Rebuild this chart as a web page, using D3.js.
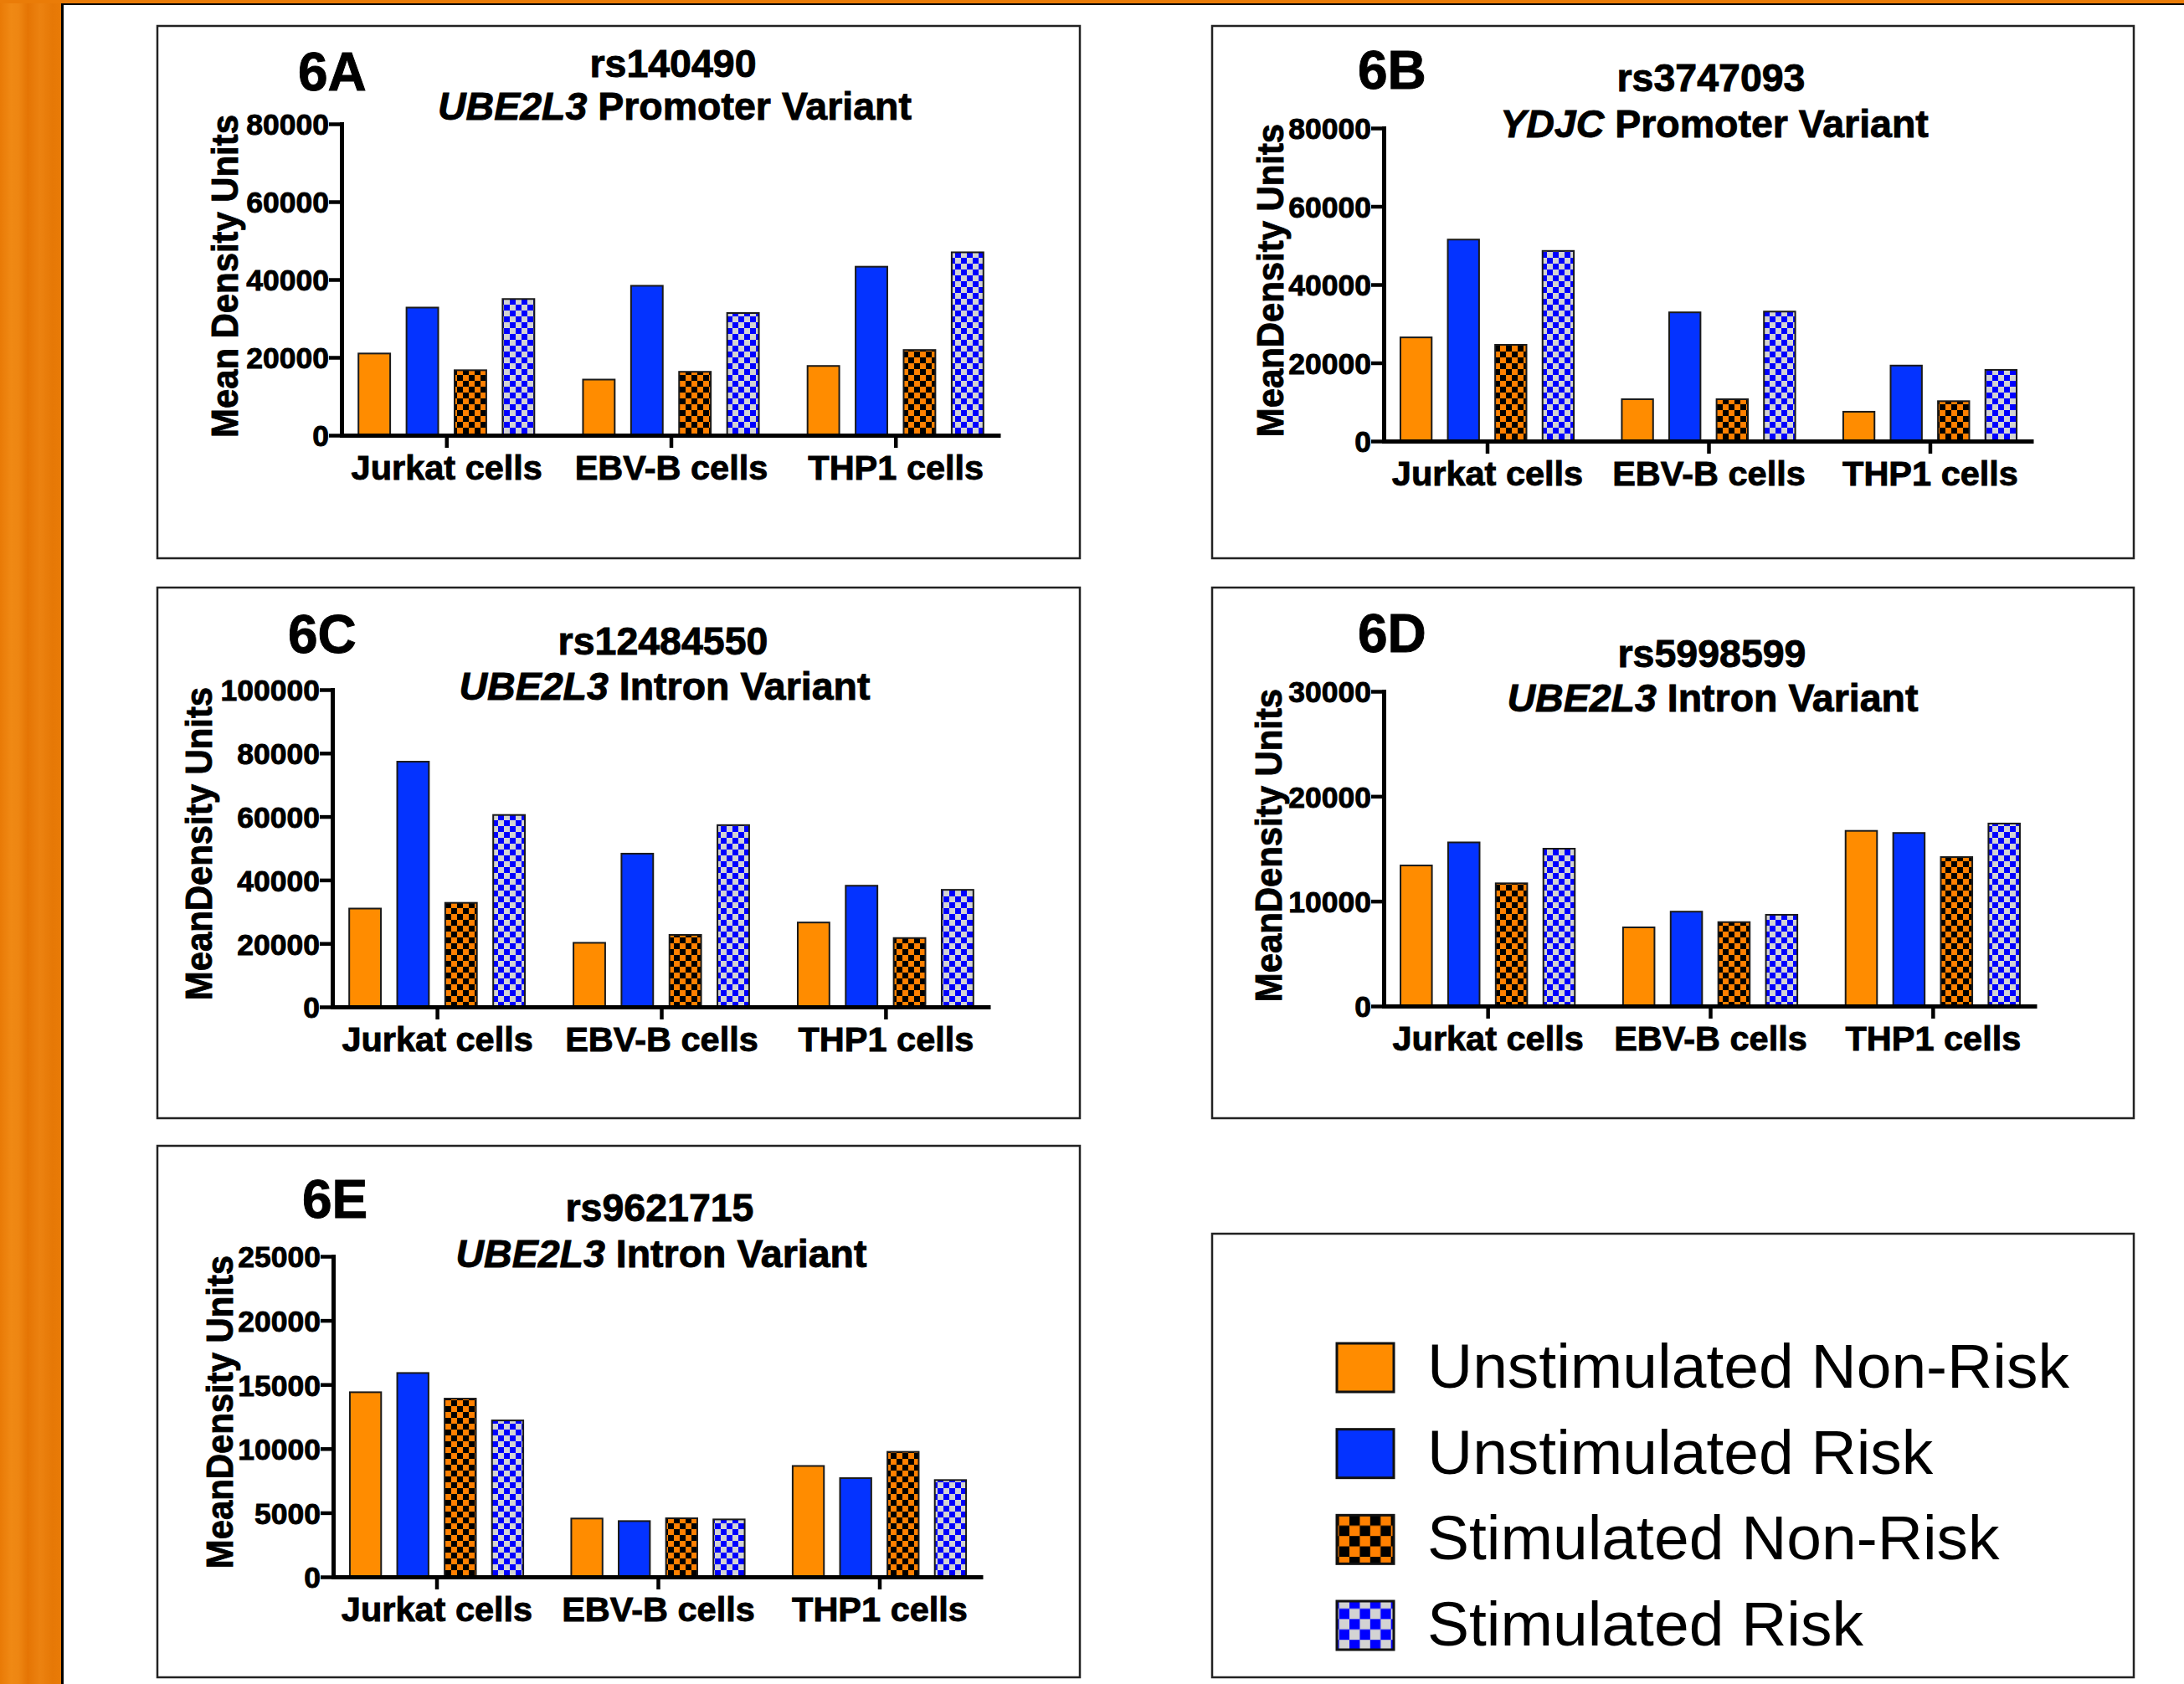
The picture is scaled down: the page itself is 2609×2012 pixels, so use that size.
<!DOCTYPE html>
<html><head><meta charset="utf-8">
<script src="https://cdn.jsdelivr.net/npm/d3@7"></script>
<style>body{margin:0;background:#fff;} svg{display:block;}</style>
</head><body>
<svg id="c" width="2609" height="2012"></svg>
<script>
// ---------- DATA ----------
const groups = ["Jurkat cells", "EBV-B cells", "THP1 cells"];
const seriesNames = ["Unstimulated Non-Risk", "Unstimulated Risk", "Stimulated Non-Risk", "Stimulated Risk"];

// rows = groups, columns = series
const values6A = [[21000, 32800, 16700, 35000], [14300, 38400, 16300, 31400], [17800, 43300, 21900, 47000]];
const values6B = [[26500, 51500, 24600, 48600], [10700, 32900, 10700, 33100], [7500, 19300, 10200, 18200]];
const values6C = [[31000, 77300, 32800, 60500], [20200, 48300, 22700, 57300], [26600, 38200, 21700, 36900]];
const values6D = [[13400, 15600, 11700, 15000], [7500, 9000, 8000, 8700], [16700, 16500, 14200, 17400]];
const values6E = [[14400, 15900, 13900, 12200], [4550, 4350, 4570, 4480], [8650, 7700, 9750, 7550]];

const ticks6A = [0, 20000, 40000, 60000, 80000];
const ticks6B = [0, 20000, 40000, 60000, 80000];
const ticks6C = [0, 20000, 40000, 60000, 80000, 100000];
const ticks6D = [0, 10000, 20000, 30000];
const ticks6E = [0, 5000, 10000, 15000, 20000, 25000];

const panelLetters = ["6A", "6B", "6C", "6D", "6E"];
const rsIds = ["rs140490", "rs3747093", "rs12484550", "rs5998599", "rs9621715"];
const genes = ["UBE2L3", "YDJC", "UBE2L3", "UBE2L3", "UBE2L3"];
const variantTypes = [" Promoter Variant", " Promoter Variant", " Intron Variant", " Intron Variant", " Intron Variant"];
const yLabels = ["Mean Density Units", "MeanDensity Units", "MeanDensity Units", "MeanDensity Units", "MeanDensity Units"];
const panelValues = [values6A, values6B, values6C, values6D, values6E];
const panelTicks = [ticks6A, ticks6B, ticks6C, ticks6D, ticks6E];

// ---------- LAYOUT ----------
const layout = [
  {box:[188,31,1290,667],  axisX:408,  axisEnd:1195, base:520,  top:148,  letter:[356,108],  title:[804,92],   sub:[806,143],  ylab:[284,330]},
  {box:[1448,31,2549,667], axisX:1653, axisEnd:2429, base:527,  top:153,  letter:[1622,106], title:[2044,109], sub:[2048,164], ylab:[1533,335]},
  {box:[188,702,1290,1336],axisX:397,  axisEnd:1183, base:1203, top:824,  letter:[344,780],  title:[792,782],  sub:[794,836],  ylab:[253,1008]},
  {box:[1448,702,2549,1336],axisX:1653,axisEnd:2433, base:1202, top:826,  letter:[1622,779], title:[2045,797], sub:[2046,850], ylab:[1531,1010]},
  {box:[188,1369,1290,2004],axisX:398, axisEnd:1174, base:1884, top:1501, letter:[361,1455], title:[788,1459], sub:[790,1514], ylab:[278,1687]}
];
const legendBox = [1448,1474,2549,2004];

const fills = ["#FF8C00", "#0433FF", "url(#chkO)", "url(#chkB)"];
const legendFills = ["#FF8C00", "#0433FF", "url(#chkOL)", "url(#chkBL)"];
const FONT = "'Liberation Sans', Arial, Helvetica, sans-serif";
const BOLD_STROKE = 0.9;

const svg = d3.select("#c");
const defs = svg.append("defs");

// background strip gradient
const grad = defs.append("linearGradient").attr("id","strip").attr("x1","0").attr("x2","1").attr("y1","0").attr("y2","0");
[[0,"#E97A06"],[0.18,"#F08914"],[0.3,"#EE8612"],[0.45,"#E57504"],[0.65,"#EC8210"],[0.85,"#E67806"],[1,"#E97B07"]]
  .forEach(([o,c]) => grad.append("stop").attr("offset",o).attr("stop-color",c));

function checker(id, size, c1, c2) {
  const p = defs.append("pattern").attr("id", id).attr("patternUnits","userSpaceOnUse")
    .attr("width", size*2).attr("height", size*2);
  p.append("rect").attr("width", size*2).attr("height", size*2).attr("fill", c1);
  p.append("rect").attr("width", size).attr("height", size).attr("fill", c2);
  p.append("rect").attr("x", size).attr("y", size).attr("width", size).attr("height", size).attr("fill", c2);
}
checker("chkO", 7, "#FF8000", "#000000");
checker("chkB", 7, "#D3D3D3", "#0000FF");
checker("chkOL", 12.4, "#FF8000", "#000000");
checker("chkBL", 12.4, "#D3D3D3", "#0000FF");

// page decoration
svg.append("rect").attr("x",0).attr("y",0).attr("width",2609).attr("height",2012).attr("fill","#fff");
svg.append("rect").attr("x",0).attr("y",0).attr("width",74).attr("height",2012).attr("fill","url(#strip)");
svg.append("rect").attr("x",0).attr("y",0).attr("width",2609).attr("height",4).attr("fill","#EA7C08");
svg.append("line").attr("x1",74.5).attr("x2",74.5).attr("y1",4).attr("y2",2012).attr("stroke","#000").attr("stroke-width",3);
svg.append("line").attr("x1",73).attr("x2",2609).attr("y1",5).attr("y2",5).attr("stroke","#000").attr("stroke-width",2);

function addText(g, txt, x, y, size, weight, anchor, extra) {
  const t = g.append("text")
    .attr("transform", `translate(${x},${y})` + (extra || ""))
    .attr("text-anchor", anchor).attr("font-family", FONT).attr("font-size", size)
    .attr("font-weight", weight).attr("fill", "#000");
  if (weight === "bold") t.attr("stroke", "#000").attr("stroke-width", BOLD_STROKE);
  if (txt !== null) t.text(txt);
  return t;
}

panelValues.forEach((vals, i) => {
  const L = layout[i];
  const g = svg.append("g");
  const [bx0, by0, bx1, by1] = L.box;
  g.append("rect").attr("x",bx0).attr("y",by0).attr("width",bx1-bx0).attr("height",by1-by0)
    .attr("fill","#fff").attr("stroke","#222").attr("stroke-width",2.5);

  const ticks = panelTicks[i];
  const y = d3.scaleLinear().domain([0, d3.max(ticks)]).range([L.base, L.top]);
  const x = d3.scalePoint().domain(groups).range([L.axisX, L.axisEnd]).padding(0.467);
  const bs = x.step() * 0.214;
  const inner = d3.scaleBand().domain(seriesNames).range([-2*bs, 2*bs]).paddingInner(0.34).paddingOuter(0.17);

  // bars
  groups.forEach((grp, gi) => {
    g.selectAll(null).data(vals[gi]).join("rect")
      .attr("x", (d, si) => x(grp) + inner(seriesNames[si]))
      .attr("width", inner.bandwidth())
      .attr("y", d => y(d))
      .attr("height", d => L.base - y(d))
      .attr("fill", (d, si) => fills[si])
      .attr("stroke", "#1a1a1a").attr("stroke-width", 2);
  });

  // y axis
  const ya = g.append("g").attr("transform", `translate(${L.axisX},0)`)
    .call(d3.axisLeft(y).tickValues(ticks).tickSize(15).tickSizeOuter(0).tickFormat(d3.format("d")));
  ya.select(".domain").attr("stroke","#000").attr("stroke-width",5).attr("stroke-linecap","square");
  ya.selectAll(".tick line").attr("stroke","#000").attr("stroke-width",4.5);
  ya.selectAll(".tick text").attr("x", -15).attr("dy", null).attr("y", 12.8)
    .attr("font-family", FONT).attr("font-size", 35.5).attr("font-weight","bold").attr("fill","#000")
    .attr("stroke","#000").attr("stroke-width", BOLD_STROKE);

  // x axis
  const xa = g.append("g").attr("transform", `translate(0,${L.base})`)
    .call(d3.axisBottom(x).tickSize(15).tickSizeOuter(0));
  xa.select(".domain").attr("stroke","#000").attr("stroke-width",5);
  xa.selectAll(".tick line").attr("stroke","#000").attr("stroke-width",4.5);
  xa.selectAll(".tick text").attr("dy", null).attr("y", 53)
    .attr("font-family", FONT).attr("font-size", 41.5).attr("font-weight","bold").attr("fill","#000")
    .attr("stroke","#000").attr("stroke-width", BOLD_STROKE);

  // y label (slightly condensed along its reading direction)
  addText(g, yLabels[i], L.ylab[0], L.ylab[1], 45, "bold", "middle", " rotate(-90) scale(0.93,1)");

  // panel letter & titles
  addText(g, panelLetters[i], L.letter[0], L.letter[1], 64, "bold", "start");
  addText(g, rsIds[i], L.title[0], L.title[1], 46.5, "bold", "middle");
  const st = addText(g, null, L.sub[0], L.sub[1], 46.5, "bold", "middle");
  st.append("tspan").attr("font-style","italic").text(genes[i]);
  st.append("tspan").text(variantTypes[i]);
});

// legend
const lg = svg.append("g");
lg.append("rect").attr("x",legendBox[0]).attr("y",legendBox[1]).attr("width",legendBox[2]-legendBox[0]).attr("height",legendBox[3]-legendBox[1])
  .attr("fill","#fff").attr("stroke","#222").attr("stroke-width",2.5);
const ly = d3.scalePoint().domain(seriesNames).range([1634, 1942]);
seriesNames.forEach((name, si) => {
  lg.append("rect").attr("x",1597).attr("y", ly(name) - 29).attr("width",68).attr("height",58)
    .attr("fill", legendFills[si]).attr("stroke","#111").attr("stroke-width",3);
  addText(lg, name, 1705, ly(name) + 24, 75, "normal", "start");
});
</script>
</body></html>
